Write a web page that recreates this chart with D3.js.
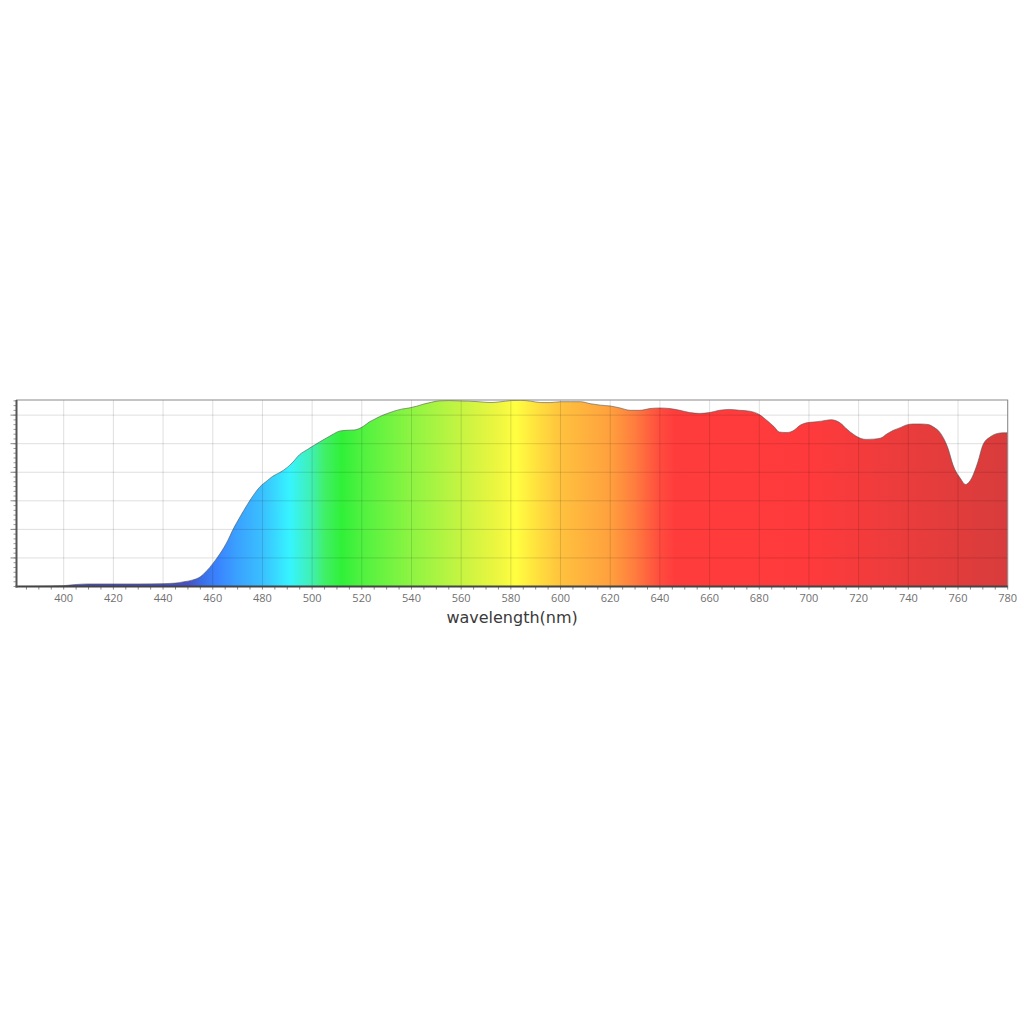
<!DOCTYPE html>
<html>
<head>
<meta charset="utf-8">
<script src="https://cdn.jsdelivr.net/npm/d3@7"></script>
<style>
  body { margin: 0; background: #fff; }
  svg { display: block; }
</style>
</head>
<body>
<svg id="chart" width="1024" height="1024"></svg>
<script>
// spectrum (arbitrary units, 1 unit = 1 grid row)
const wavelengths = [381, 390, 400, 405, 410, 420, 430, 440, 445, 448, 452, 455, 457.5, 460, 463, 466, 468, 471, 474, 476, 479, 482, 484, 487, 490, 492, 495, 498, 500, 503, 506, 508, 511, 514, 517, 519, 521, 523, 525, 527, 530, 533, 536, 539, 542, 545, 548, 551, 555, 559, 563, 567, 572, 576, 580, 584, 588, 592, 596, 600, 604, 608, 612, 616, 620, 624, 628, 632, 636, 640, 644, 648, 652, 656, 660, 664, 668, 672, 676, 680, 683, 686, 688, 691, 694, 696, 699, 702, 705, 707, 709, 711, 713, 715, 718, 721, 723, 726, 729, 731, 734, 737, 739, 742, 745, 748, 750, 753, 756, 758, 761, 763, 765, 768, 770, 773, 776, 778, 780];
const intensity = [0.0, 0.01, 0.03, 0.07, 0.09, 0.09, 0.09, 0.1, 0.12, 0.16, 0.23, 0.34, 0.54, 0.8, 1.16, 1.6, 1.97, 2.44, 2.88, 3.15, 3.49, 3.71, 3.85, 3.99, 4.17, 4.33, 4.62, 4.79, 4.9, 5.06, 5.21, 5.31, 5.44, 5.47, 5.48, 5.53, 5.63, 5.76, 5.85, 5.94, 6.05, 6.14, 6.21, 6.25, 6.31, 6.39, 6.45, 6.5, 6.51, 6.5, 6.49, 6.47, 6.44, 6.47, 6.51, 6.52, 6.49, 6.44, 6.44, 6.47, 6.47, 6.47, 6.4, 6.35, 6.32, 6.25, 6.17, 6.17, 6.23, 6.25, 6.23, 6.17, 6.09, 6.06, 6.09, 6.17, 6.2, 6.17, 6.14, 6.02, 5.82, 5.59, 5.41, 5.39, 5.47, 5.62, 5.73, 5.76, 5.79, 5.82, 5.84, 5.8, 5.7, 5.53, 5.32, 5.18, 5.15, 5.16, 5.2, 5.32, 5.47, 5.57, 5.65, 5.69, 5.69, 5.67, 5.59, 5.36, 4.83, 4.25, 3.78, 3.57, 3.72, 4.36, 4.95, 5.24, 5.36, 5.38, 5.38];

// colour of the fill at each wavelength
const stopWavelengths = [381, 450, 456, 462, 470, 480, 491, 500, 505, 512, 520, 540, 560, 575, 582, 590, 600, 620, 630, 640, 646, 700, 740, 780];
const stopColors = ['#4848b0', '#4850c8', '#3a70e8', '#3a84ff', '#3aa2ff', '#3ac0ff', '#36f4ff', '#40f0b0', '#40f068', '#30f038', '#50f240', '#8ef442', '#c6f442', '#eef640', '#ffff40', '#ffe23e', '#ffc23e', '#ffa03e', '#ff7c3e', '#ff4c3e', '#ff3c3c', '#ff3a3c', '#ea3c3c', '#d83c3c'];

const xTickValues = d3.range(400, 781, 20);
const xMinorValues = d3.range(385, 781, 5);
const yGridValues = [1, 2, 3, 4, 5, 6];
const yMinorValues = d3.range(0, 6.53, 1 / 6);

const plotLeft = 16.5, plotRight = 1007.7, plotTop = 400, plotBottom = 586.5;

const svg = d3.select('#chart');

const x = d3.scaleLinear().domain([381, 780]).range([plotLeft, plotRight]);
const y = d3.scaleLinear().domain([0, 6.53]).range([plotBottom, plotTop]);

const points = wavelengths.map((w, i) => ({ w: w, v: intensity[i] }));

// horizontal gradient following the wavelength scale
const defs = svg.append('defs');
const grad = defs.append('linearGradient')
    .attr('id', 'spectrum')
    .attr('gradientUnits', 'userSpaceOnUse')
    .attr('x1', x(381)).attr('x2', x(780))
    .attr('y1', 0).attr('y2', 0);
grad.selectAll('stop')
    .data(stopWavelengths)
    .enter()
    .append('stop')
    .attr('offset', d => (d - 381) / (780 - 381))
    .attr('stop-color', (d, i) => stopColors[i]);

defs.append('clipPath').attr('id', 'plot-clip')
    .append('rect')
    .attr('x', plotLeft).attr('y', plotTop)
    .attr('width', plotRight - plotLeft).attr('height', plotBottom - plotTop);

// white plot background
svg.append('rect')
    .attr('x', plotLeft).attr('y', plotTop)
    .attr('width', plotRight - plotLeft).attr('height', plotBottom - plotTop)
    .attr('fill', '#fff');

// spectrum area
const area = d3.area()
    .x(d => x(d.w))
    .y0(y(0))
    .y1(d => y(d.v))
    .curve(d3.curveMonotoneX);
const line = d3.line()
    .x(d => x(d.w))
    .y(d => y(d.v))
    .curve(d3.curveMonotoneX);

const plot = svg.append('g').attr('clip-path', 'url(#plot-clip)');
plot.append('path')
    .datum(points)
    .attr('d', area)
    .attr('fill', 'url(#spectrum)');
plot.append('path')
    .datum(points)
    .attr('d', line)
    .attr('fill', 'none')
    .attr('stroke', '#555')
    .attr('stroke-opacity', 0.6)
    .attr('stroke-width', 1);

// grid lines on top, semi transparent so they tint the fill
const grid = svg.append('g');
grid.selectAll('line.vgrid')
    .data(xTickValues)
    .enter()
    .append('line')
    .attr('class', 'vgrid')
    .attr('x1', d => x(d)).attr('x2', d => x(d))
    .attr('y1', plotTop).attr('y2', plotBottom)
    .attr('stroke', '#000')
    .attr('stroke-opacity', 0.13)
    .attr('stroke-width', 1);
grid.selectAll('line.hgrid')
    .data(yGridValues)
    .enter()
    .append('line')
    .attr('class', 'hgrid')
    .attr('x1', plotLeft).attr('x2', plotRight)
    .attr('y1', d => y(d)).attr('y2', d => y(d))
    .attr('stroke', '#000')
    .attr('stroke-opacity', 0.13)
    .attr('stroke-width', 1);

// frame
svg.append('rect')
    .attr('x', plotLeft).attr('y', plotTop)
    .attr('width', plotRight - plotLeft).attr('height', plotBottom - plotTop)
    .attr('fill', 'none')
    .attr('stroke', '#8a8a8a')
    .attr('stroke-width', 1);

// x axis
const xAxis = svg.append('g');
xAxis.selectAll('line.minor')
    .data(xMinorValues)
    .enter()
    .append('line')
    .attr('class', 'minor')
    .attr('x1', d => x(d)).attr('x2', d => x(d))
    .attr('y1', plotBottom).attr('y2', plotBottom + 3)
    .attr('stroke', '#888')
    .attr('stroke-width', 1);
xAxis.selectAll('text')
    .data(xTickValues)
    .enter()
    .append('text')
    .attr('x', d => x(d))
    .attr('y', plotBottom + 15)
    .attr('text-anchor', 'middle')
    .attr('font-family', '"Open Sans", "DejaVu Sans", sans-serif')
    .attr('font-size', 11)
    .attr('fill', '#707070')
    .text(d => d);
xAxis.append('line')
    .attr('x1', plotLeft - 1).attr('x2', plotRight)
    .attr('y1', plotBottom).attr('y2', plotBottom)
    .attr('stroke', '#444')
    .attr('stroke-width', 2);

// y axis (no labels)
const yAxis = svg.append('g');
yAxis.selectAll('line.minor')
    .data(yMinorValues)
    .enter()
    .append('line')
    .attr('class', 'minor')
    .attr('x1', plotLeft - 3).attr('x2', plotLeft)
    .attr('y1', d => y(d)).attr('y2', d => y(d))
    .attr('stroke', '#999')
    .attr('stroke-width', 1);
yAxis.selectAll('line.major')
    .data(yGridValues)
    .enter()
    .append('line')
    .attr('class', 'major')
    .attr('x1', plotLeft - 6).attr('x2', plotLeft)
    .attr('y1', d => y(d)).attr('y2', d => y(d))
    .attr('stroke', '#888')
    .attr('stroke-width', 1);
yAxis.append('line')
    .attr('x1', plotLeft).attr('x2', plotLeft)
    .attr('y1', plotTop).attr('y2', plotBottom + 1)
    .attr('stroke', '#555')
    .attr('stroke-width', 2);

// axis title
svg.append('text')
    .attr('x', (plotLeft + plotRight) / 2)
    .attr('y', 623)
    .attr('text-anchor', 'middle')
    .attr('font-family', '"DejaVu Sans", sans-serif')
    .attr('font-size', 16)
    .attr('fill', '#3a3a3a')
    .text('wavelength(nm)');
</script>
</body>
</html>
